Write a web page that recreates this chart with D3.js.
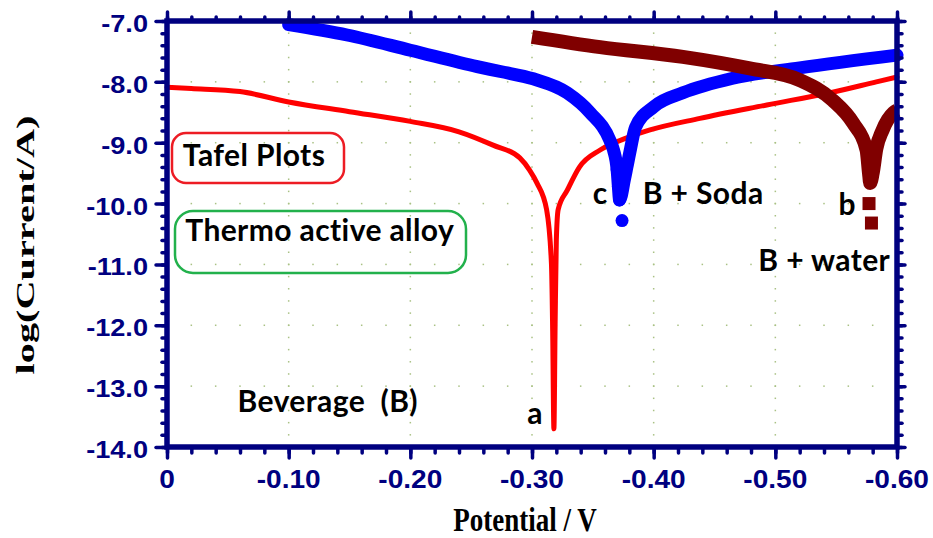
<!DOCTYPE html>
<html>
<head>
<meta charset="utf-8">
<script src="https://cdn.jsdelivr.net/npm/d3@7"></script>
<style>
  html, body { margin: 0; padding: 0; background: #ffffff; }
  svg { display: block; }
  text { white-space: pre; }
</style>
</head>
<body>
<div id="chart"></div>
<script>
// ---------------- DATA ----------------
const xDomain = [0, -0.60];
const yDomain = [-14.0, -7.0];
const xMajorTicks = [0, -0.10, -0.20, -0.30, -0.40, -0.50, -0.60];
const xTickLabels = ["0", "-0.10", "-0.20", "-0.30", "-0.40", "-0.50", "-0.60"];
const yMajorTicks = [-7, -8, -9, -10, -11, -12, -13, -14];
const yTickLabels = ["-7.0", "-8.0", "-9.0", "-10.0", "-11.0", "-12.0", "-13.0", "-14.0"];
const xMinorStep = 0.02;
const yMinorStep = 0.2;

// a : Beverage (B) — red
const potA = [0, -0.02, -0.06, -0.10, -0.15, -0.20, -0.24, -0.268, -0.29, -0.298, -0.304, -0.312, -0.316, -0.317, -0.318,
              -0.319, -0.320, -0.3215, -0.329, -0.339, -0.356, -0.378, -0.397, -0.438, -0.493, -0.547, -0.583, -0.600];
const logA = [-8.09, -8.11, -8.16, -8.33, -8.49, -8.65, -8.82, -9.04, -9.25, -9.45, -9.66, -10.1, -11.0, -12.1, -13.7,
              -12.0, -10.6, -10.1, -9.78, -9.40, -9.12, -8.92, -8.79, -8.60, -8.38, -8.17, -8.00, -7.92];

// c : B + Soda — blue
const potC = [-0.100, -0.148, -0.200, -0.255, -0.274, -0.301, -0.329, -0.348, -0.364, -0.367, -0.370, -0.371, -0.372,
              -0.376, -0.378, -0.381, -0.385, -0.400, -0.424, -0.465, -0.520, -0.600];
const logC = [-7.06, -7.23, -7.48, -7.75, -7.83, -7.95, -8.18, -8.51, -8.96, -9.12, -9.45, -9.72, -9.94,
              -9.60, -9.40, -9.10, -8.75, -8.41, -8.18, -7.94, -7.77, -7.56];
const potCtail = [-0.374];
const logCtail = [-10.28];

// b : B + water — dark red
const potB = [-0.300, -0.356, -0.424, -0.479, -0.520, -0.547, -0.564, -0.575, -0.577, -0.578,
              -0.580, -0.583, -0.588, -0.597, -0.600];
const logB = [-7.26, -7.43, -7.59, -7.78, -7.97, -8.30, -8.68, -9.12, -9.50, -9.66,
              -9.50, -9.10, -8.80, -8.51, -8.47];
const potBtail = [-0.577, -0.579];
const logBtail = [-10.00, -10.32];

// annotations
const noteTexts = ["Tafel Plots", "Thermo active alloy", "Beverage  (B)", "a", "c", "B + Soda", "b", "B + water"];
const notePot = [-0.013, -0.015, -0.058, -0.296, -0.350, -0.391, -0.552, -0.486];
const noteLog = [-9.38, -10.62, -13.43, -13.63, -10.00, -10.00, -10.18, -11.10];

// ---------------- LAYOUT ----------------
const W = 933, H = 538;
const M = { left: 167, right: 36, top: 21, bottom: 91 };
const navy = "#000080";

const svg = d3.select("#chart").append("svg").attr("width", W).attr("height", H);
const x = d3.scaleLinear().domain(xDomain).range([M.left, W - M.right]);
const y = d3.scaleLinear().domain(yDomain).range([H - M.bottom, M.top]);

const xMinor = d3.range(0, 31).map(i => -i * xMinorStep);
const yMinor = d3.range(0, 36).map(i => -7 - i * yMinorStep);

// ---- dotted grid ----
const grid = svg.append("g").attr("fill", "#a9c184");
const gx = xMajorTicks.slice(1, -1);
const gy = yMajorTicks.slice(1, -1);
gx.forEach(v => {
  yMinor.forEach(w => {
    grid.append("rect").attr("x", x(v) - 0.75).attr("y", y(w) - 0.75).attr("width", 1.5).attr("height", 1.5);
  });
});
gy.forEach(w => {
  xMinor.forEach(v => {
    grid.append("rect").attr("x", x(v) - 0.75).attr("y", y(w) - 0.75).attr("width", 1.5).attr("height", 1.5);
  });
});

// ---- annotation boxes ----
svg.append("rect").attr("x", 172).attr("y", 133).attr("width", 172).attr("height", 50)
  .attr("rx", 14).attr("fill", "none").attr("stroke", "#ed1c24").attr("stroke-width", 2.5);
svg.append("rect").attr("x", 175).attr("y", 211).attr("width", 291).attr("height", 62)
  .attr("rx", 18).attr("fill", "none").attr("stroke", "#22b14c").attr("stroke-width", 2.5);

// ---- curves ----
const line = d3.line().x(d => x(d[0])).y(d => y(d[1])).curve(d3.curveMonotoneX);
const dataA = potA.map((v, i) => [v, logA[i]]);
const dataC = potC.map((v, i) => [v, logC[i]]);
const dataB = potB.map((v, i) => [v, logB[i]]);

svg.append("path").attr("d", line(dataA)).attr("fill", "none").attr("stroke", "#ff0000")
  .attr("stroke-width", 5).attr("stroke-linecap", "round").attr("stroke-linejoin", "round");

svg.append("path").attr("d", line(dataC)).attr("fill", "none").attr("stroke", "#0000ff")
  .attr("stroke-width", 13).attr("stroke-linecap", "round").attr("stroke-linejoin", "round");
svg.append("g").attr("fill", "#0000ff").selectAll("circle")
  .data(dataC.slice(10, 13).concat(potCtail.map((v, i) => [v, logCtail[i]])))
  .join("circle").attr("cx", d => x(d[0])).attr("cy", d => y(d[1])).attr("r", 6.5);

svg.append("path").attr("d", line(dataB)).attr("fill", "none").attr("stroke", "#800000")
  .attr("stroke-width", 14).attr("stroke-linecap", "butt").attr("stroke-linejoin", "miter");
svg.append("g").attr("fill", "#800000").selectAll("rect")
  .data(potBtail.map((v, i) => [v, logBtail[i]]))
  .join("rect").attr("x", d => x(d[0]) - 6.5).attr("y", d => y(d[1]) - 6.5).attr("width", 13).attr("height", 13);

// ---- notes ----
svg.append("g").selectAll("text").data(noteTexts).join("text")
  .attr("x", (d, i) => x(notePot[i])).attr("y", (d, i) => y(noteLog[i]))
  .attr("font-family", "Lato, 'Open Sans', sans-serif").attr("font-weight", "bold")
  .attr("font-size", 30).attr("letter-spacing", 0.4).attr("fill", "#000").text(d => d);

// ---- axes frame & ticks ----
const tickStyle = g => {
  g.select(".domain").remove();
  g.selectAll(".tick line").attr("stroke", navy).attr("stroke-width", 3.5).attr("stroke-linecap", "round");
  g.selectAll(".tick text").remove();
};
svg.append("g").attr("transform", `translate(${M.left},0)`).call(d3.axisLeft(y).tickValues(yMinor).tickSize(5)).call(tickStyle);
svg.append("g").attr("transform", `translate(${M.left},0)`).call(d3.axisLeft(y).tickValues(yMajorTicks).tickSize(11)).call(tickStyle);
svg.append("g").attr("transform", `translate(${W - M.right},0)`).call(d3.axisRight(y).tickValues(yMinor).tickSize(5)).call(tickStyle);
svg.append("g").attr("transform", `translate(${W - M.right},0)`).call(d3.axisRight(y).tickValues(yMajorTicks).tickSize(8)).call(tickStyle);
svg.append("g").attr("transform", `translate(0,${H - M.bottom})`).call(d3.axisBottom(x).tickValues(xMinor).tickSize(6)).call(tickStyle);
svg.append("g").attr("transform", `translate(0,${H - M.bottom})`).call(d3.axisBottom(x).tickValues(xMajorTicks).tickSize(11)).call(tickStyle);
svg.append("g").attr("transform", `translate(0,${M.top})`).call(d3.axisTop(x).tickValues(xMinor).tickSize(4)).call(tickStyle);
svg.append("g").attr("transform", `translate(0,${M.top})`).call(d3.axisTop(x).tickValues(xMajorTicks).tickSize(9)).call(tickStyle);

svg.append("rect").attr("x", M.left).attr("y", M.top)
  .attr("width", W - M.left - M.right).attr("height", H - M.top - M.bottom)
  .attr("fill", "none").attr("stroke", navy).attr("stroke-width", 5.5);

// ---- tick labels ----
svg.append("g").selectAll("text").data(yMajorTicks).join("text")
  .attr("transform", d => `translate(148,${y(d) + 11}) scale(1.18,1)`)
  .attr("text-anchor", "end").attr("font-family", "'Liberation Sans', Arial, sans-serif")
  .attr("font-weight", "bold").attr("font-size", 23).attr("fill", navy)
  .text((d, i) => yTickLabels[i]);

svg.append("g").selectAll("text").data(xMajorTicks).join("text")
  .attr("transform", d => `translate(${x(d)},488) scale(1.08,1)`)
  .attr("text-anchor", "middle").attr("font-family", "'Liberation Sans', Arial, sans-serif")
  .attr("font-weight", "bold").attr("font-size", 26).attr("fill", navy)
  .text((d, i) => xTickLabels[i]);

// ---- axis titles ----
svg.append("text").attr("transform", "translate(34,245) rotate(-90) scale(1.55,1)")
  .attr("text-anchor", "middle").attr("font-family", "'Liberation Serif', 'Times New Roman', serif")
  .attr("font-weight", "bold").attr("font-size", 26).attr("fill", "#000").text("log(Current/A)");

svg.append("text").attr("transform", "translate(525,531) scale(0.82,1)")
  .attr("text-anchor", "middle").attr("font-family", "'Liberation Serif', 'Times New Roman', serif")
  .attr("font-weight", "bold").attr("font-size", 33).attr("fill", "#000").text("Potential / V");
</script>
</body>
</html>
